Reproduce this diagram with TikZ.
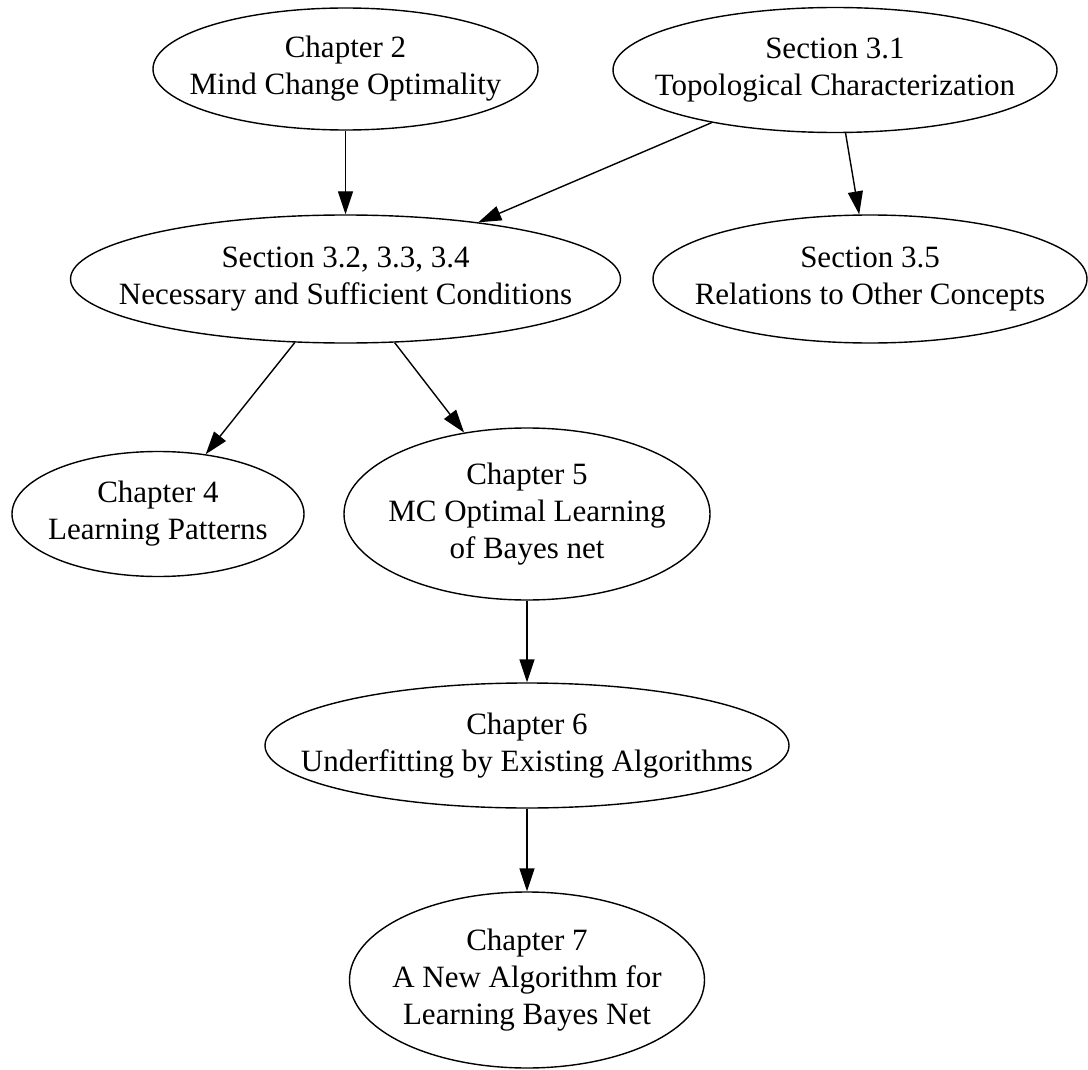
\documentclass[tikz,border=0pt]{standalone}
\usepackage{fontspec}
\setmainfont{Liberation Serif}
\usetikzlibrary{shapes.geometric,arrows.meta}
\begin{document}
\begin{tikzpicture}[x=1pt,y=-1pt,
  topic/.style={draw=black, line width=1.4pt, ellipse, inner sep=0pt},
  caption/.style={align=center, font=\fontsize{31}{37}\selectfont, inner sep=0pt, text=black},
  link/.style={line width=1.4pt, -{Triangle[length=23pt,width=15pt]}}]
\useasboundingbox (0,0) rectangle (1088,1070);

% rank 0
\node[topic, minimum width=385pt, minimum height=122pt,
      label={[caption]center:Chapter 2\\Mind Change Optimality}] (ch2) at (345.5,69) {};
\node[topic, minimum width=444pt, minimum height=125pt,
      label={[caption]center:Section 3.1\\Topological Characterization}] (s31) at (835,70) {};

% rank 1
\node[topic, minimum width=550pt, minimum height=128pt,
      label={[caption]center:Section 3.2, 3.3, 3.4\\Necessary and Sufficient Conditions}] (s32) at (345.5,279) {};
\node[topic, minimum width=434pt, minimum height=128pt,
      label={[caption]center:Section 3.5\\Relations to Other Concepts}] (s35) at (870,279) {};

% rank 2
\node[topic, minimum width=292pt, minimum height=125pt,
      label={[caption]center:Chapter 4\\Learning Patterns}] (ch4) at (158,514) {};
\node[topic, minimum width=366pt, minimum height=172pt,
      label={[caption]center:Chapter 5\\MC Optimal Learning\\of Bayes net}] (ch5) at (527,514) {};

% rank 3
\node[topic, minimum width=524pt, minimum height=125pt,
      label={[caption]center:Chapter 6\\Underfitting by Existing Algorithms}] (ch6) at (527,745.5) {};

% rank 4
\node[topic, minimum width=355pt, minimum height=176pt,
      label={[caption]center:Chapter 7\\A New Algorithm for\\Learning Bayes Net}] (ch7) at (527,980) {};

% dependencies
\draw[link] (ch2) -- (s32);
\draw[link] (s31) -- (s32);
\draw[link] (s31) -- (s35);
\draw[link] (s32) -- (ch4);
\draw[link] (s32) -- (ch5);
\draw[link] (ch5) -- (ch6);
\draw[link] (ch6) -- (ch7);
\end{tikzpicture}
\end{document}
